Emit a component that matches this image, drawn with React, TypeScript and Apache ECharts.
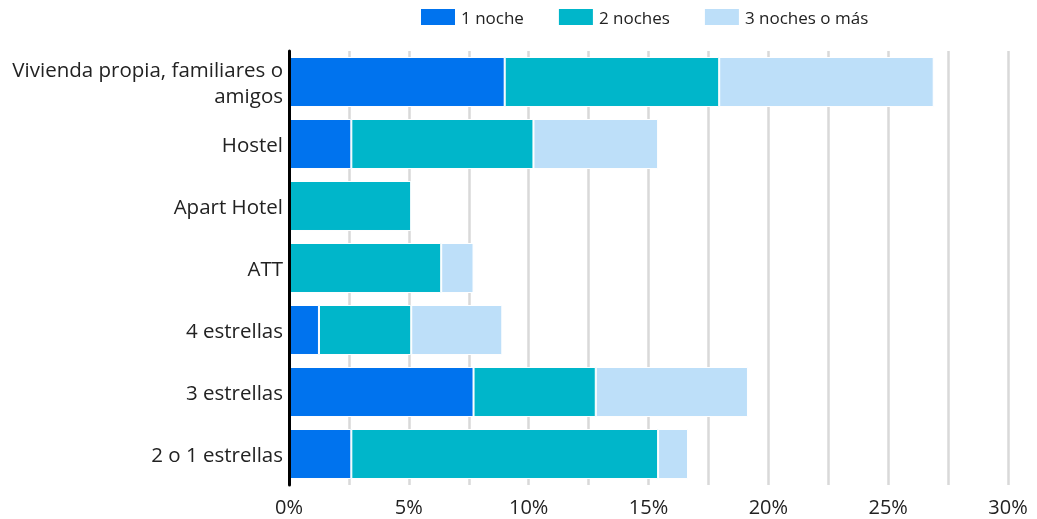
import React, { useEffect, useRef } from "react";
import * as echarts from "echarts";

const categories = [
  "Vivienda propia, familiares o amigos",
  "Hostel",
  "Apart Hotel",
  "ATT",
  "4 estrellas",
  "3 estrellas",
  "2 o 1 estrellas",
];
const seriesNames = ["1 noche", "2 noches", "3 noches o más"];
const unaNoche = [9.0, 2.6, 0, 0, 1.25, 7.7, 2.6];
const dosNoches = [8.95, 7.6, 5.1, 6.35, 3.85, 5.1, 12.8];
const tresNoches = [8.95, 5.2, 0, 1.35, 3.8, 6.35, 1.25];
const xTicks = [0, 5, 10, 15, 20, 25, 30];
const colors = ["#0073EE", "#00B6CA", "#BDDFF9"];

const FONT = "'Open Sans', 'Noto Sans', sans-serif";

export default function App() {
  const ref = useRef<HTMLDivElement>(null);
  useEffect(() => {
    if (!ref.current) return;
    const chart = echarts.init(ref.current, undefined, { renderer: "svg" });
    const values = [unaNoche, dosNoches, tresNoches];
    chart.setOption({
      animation: false,
      textStyle: { fontFamily: FONT },
      legend: {
        top: 2,
        left: 414,
        itemWidth: 36,
        itemHeight: 18,
        itemGap: 33,
        icon: "rect",
        textStyle: { fontSize: 17, color: "#222", fontFamily: FONT },
        data: seriesNames,
      },
      grid: { left: 289, right: 29, top: 51, bottom: 34, containLabel: false },
      xAxis: {
        type: "value",
        min: 0,
        max: 30,
        interval: 2.5,
        axisLine: { show: false },
        axisTick: { show: false },
        splitLine: { show: true, lineStyle: { color: "#d9d9d9", width: 2.5 } },
        axisLabel: {
          fontSize: 20,
          color: "#222",
          fontFamily: FONT,
          margin: 11,
          formatter: (v: number) => (xTicks.includes(v) ? `${v}%` : ""),
        },
      },
      yAxis: {
        type: "category",
        inverse: true,
        z: 5,
        data: categories,
        axisLine: { show: true, lineStyle: { color: "#000", width: 3 } },
        axisTick: { show: false },
        axisLabel: {
          fontSize: 20.5,
          color: "#222",
          fontFamily: FONT,
          margin: 6,
          lineHeight: 26,
          formatter: (v: string) => {
            const words = v.split(" ");
            const lines: string[] = [];
            let cur = "";
            for (const w of words) {
              const t = cur ? cur + " " + w : w;
              if (t.length > 29 && cur) {
                lines.push(cur);
                cur = w;
              } else cur = t;
            }
            lines.push(cur);
            return lines.join("\n");
          },
        },
      },
      series: seriesNames.map((name, i) => ({
        name,
        type: "bar",
        stack: "total",
        barCategoryGap: "19.4%",
        data: values[i],
        itemStyle: { color: colors[i], borderColor: "#fff", borderWidth: 1 },
      })),
    });
    return () => chart.dispose();
  }, []);
  return (
    <div
      ref={ref}
      style={{ position: "fixed", left: 0, top: 0, width: 1037, height: 519 }}
    />
  );
}
